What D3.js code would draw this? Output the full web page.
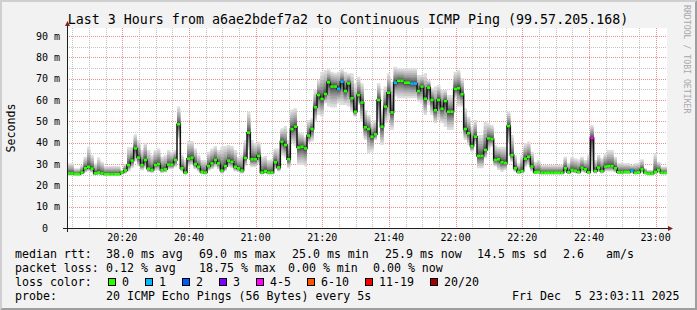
<!DOCTYPE html>
<html>
<head>
<meta charset="utf-8">
<script src="https://cdn.jsdelivr.net/npm/d3@7"></script>
<style>
body{margin:0;background:#f2f2f2}
svg{display:block}
text{font-family:"DejaVu Sans Mono",monospace;white-space:pre;fill:#000}
</style>
</head>
<body>
<script>
// data, one value per minute (ms)
const startTime = new Date(2025,11,5,20,3,25), endTime = new Date(2025,11,5,23,3,25);
const stepSec = 60;
const median = [
25.6,25.6,25.3,25.3,26.0,28.0,28.7,27.8,25.6,26.0,
25.6,25.2,25.2,25.2,25.2,25.2,26.0,27.0,29.5,31.6,
37.3,33.0,29.5,31.9,27.8,27.2,29.5,30.0,27.2,27.5,
29.7,29.7,31.9,48.6,28.0,26.0,32.5,33.0,30.0,28.7,
26.3,26.0,29.0,30.3,31.9,30.3,26.9,29.0,31.6,31.0,
28.7,28.0,26.9,32.8,44.7,32.2,32.2,33.8,26.0,26.7,
26.0,26.0,30.8,28.4,40.5,38.9,32.2,46.3,47.5,37.7,
38.1,37.3,43.3,46.4,56.6,62.3,60.5,62.8,68.3,66.3,
66.3,65.2,68.6,64.2,67.8,60.8,54.5,62.3,58.8,47.2,
46.4,42.8,43.9,60.0,47.5,56.9,63.4,54.2,68.1,69.0,
69.0,68.1,68.1,67.7,67.7,64.2,66.3,60.6,65.8,60.0,
55.2,60.0,55.9,59.5,54.5,54.5,65.2,65.5,62.7,46.4,
44.4,38.4,42.8,33.8,33.8,36.6,42.0,41.7,31.9,32.2,
30.8,30.5,47.8,34.2,28.0,26.3,26.7,32.5,33.4,28.8,
26.1,26.3,25.9,25.9,25.9,25.9,25.9,25.9,25.9,28.0,
26.1,27.2,26.9,26.3,28.3,27.5,26.1,42.2,26.7,28.3,
26.7,28.8,29.0,29.0,28.0,26.1,26.1,26.3,26.3,26.9,
25.9,26.1,27.5,25.9,25.5,25.5,26.3,27.2,25.9,25.9];
const smokeHi = [
30.3,30.3,28.0,28.0,29.5,33.4,38.1,34.2,30.3,33.0,
31.1,29.1,29.1,29.1,29.1,29.1,27.2,30.0,37.8,38.1,
43.9,41.3,36.6,40.0,36.6,34.2,36.6,37.3,33.4,34.2,
36.6,35.8,36.6,56.9,34.2,31.9,40.8,40.8,37.3,34.2,
31.9,31.9,35.8,37.3,38.4,36.6,38.1,38.4,38.9,38.4,
36.6,33.4,34.2,41.3,54.5,41.3,39.7,40.5,33.4,33.8,
31.9,32.2,37.3,37.3,46.7,47.8,41.3,55.6,56.1,45.2,
44.4,42.8,50.6,51.4,64.7,69.4,73.3,74.1,74.4,73.3,
72.8,73.3,74.4,73.3,72.5,72.5,67.8,70.9,67.8,55.3,
53.0,49.1,50.6,67.8,55.3,66.3,72.5,68.6,75.6,74.8,
74.8,74.8,74.8,74.8,74.8,71.7,71.7,72.5,69.4,65.5,
66.3,67.0,64.7,64.7,62.3,62.3,73.3,74.1,70.2,56.1,
52.2,47.5,50.6,43.6,43.6,49.8,49.1,48.3,38.9,38.1,
38.1,38.1,54.5,43.6,34.2,30.3,34.2,39.7,40.5,35.8,
31.1,31.9,29.5,29.5,29.5,29.5,29.5,29.5,29.5,33.4,
30.6,33.4,32.7,32.2,33.4,31.9,34.2,48.3,31.9,34.2,
32.7,35.0,36.6,36.6,33.4,30.6,30.6,30.3,30.3,29.5,
30.3,30.6,32.2,28.0,27.2,27.2,35.0,31.1,28.8,28.8];
const smokeLo = [
24.6,24.6,24.5,24.5,25.0,26.0,26.5,26.0,24.8,25.0,
24.8,24.5,24.5,24.5,24.5,24.5,25.0,25.5,26.5,28.0,
31.0,29.0,27.0,28.0,26.0,25.8,27.0,27.0,25.8,26.0,
27.5,27.5,28.5,42.0,26.5,25.0,29.0,29.5,27.5,26.5,
25.2,25.0,26.8,27.5,28.5,27.5,25.5,26.8,28.5,28.0,
26.5,26.2,25.5,29.0,36.6,28.5,28.5,30.0,25.0,25.5,
25.0,25.0,27.5,26.5,34.0,33.0,28.0,39.7,38.4,29.5,
29.5,29.0,39.7,40.5,49.8,53.0,52.2,58.4,56.9,56.5,
56.5,58.4,57.7,57.7,56.9,54.5,52.2,57.7,49.8,41.3,
35.0,35.8,41.3,49.8,38.9,49.1,50.6,45.9,61.6,60.8,
60.8,60.8,60.8,60.8,60.8,59.2,58.4,53.0,57.7,53.0,
49.1,50.6,49.1,47.5,45.9,45.9,60.8,56.9,56.9,41.3,
38.9,35.8,39.7,28.0,28.0,32.7,36.6,38.1,28.8,27.2,
26.4,27.2,39.7,31.1,26.4,25.3,25.5,28.5,29.5,26.5,
25.2,25.3,25.0,25.0,25.0,25.0,25.0,25.0,25.0,26.0,
25.2,25.8,25.6,25.3,26.2,25.8,25.2,27.0,25.5,26.2,
25.5,26.5,26.5,26.5,26.0,25.2,25.2,25.3,25.3,25.6,
25.0,25.2,26.0,25.0,24.6,24.6,25.3,26.0,25.0,25.0];
// lost pings out of 20, per minute
const lost = [
0,0,0,0,0,0,0,0,0,0, 0,0,0,0,0,0,0,0,0,0, 0,0,0,0,0,0,0,0,0,0,
0,0,0,0,0,0,0,0,0,0, 0,0,0,0,0,0,0,0,0,0, 0,0,0,0,0,0,0,0,0,0,
0,0,0,0,0,0,0,0,0,0, 0,0,0,0,0,0,0,0,0,0, 0,1,1,0,0,0,0,0,0,0,
0,0,0,0,0,0,0,0,1,0, 0,0,0,1,1,0,0,0,0,0, 0,0,0,0,0,0,0,0,0,0,
0,0,0,0,0,0,0,0,0,0, 0,0,0,0,0,0,0,0,0,0, 0,0,0,0,0,0,0,0,0,0,
0,0,0,0,0,0,0,4,0,0, 0,0,0,0,0,0,0,0,0,1, 0,0,0,0,0,0,0,0,0,0];
const yTicks = [0,10,20,30,40,50,60,70,80,90];
const lossLabels = ['0','1','2','3','4-5','6-10','11-19','20/20'];
const lossColors = ['#26ff00','#00b8ff','#0059ff','#7e00ff','#ff00ff','#ff5500','#ff0000','#a10000'];
const lossMax = [0,1,2,3,5,10,19,20];
const rttItems = ['38.0 ms avg','69.0 ms max','25.0 ms min','25.9 ms now','14.5 ms sd','2.6','am/s'];
const lossItems = ['0.12 % avg','18.75 % max','0.00 % min','0.00 % now'];

const W = 697, H = 310;
const pLeft = 67, pRight = 667, pTop = 28, pBottom = 228;

const svg = d3.select('body').append('svg').attr('width',W).attr('height',H);
// background + bevel
svg.append('rect').attr('width',W).attr('height',H).attr('fill','#f2f2f2');
svg.append('path').attr('d','M0,0H697L695,2H2V308L0,310Z').attr('fill','#cfcfcf');
svg.append('path').attr('d','M697,0V310H0L2,308H695V2Z').attr('fill','#9e9e9e');
svg.append('rect').attr('x',pLeft).attr('y',pTop).attr('width',pRight-pLeft).attr('height',pBottom-pTop).attr('fill','#fff');

// scales
const x = d3.scaleTime().domain([startTime,endTime]).range([pLeft,pRight]);
const y = d3.scaleLinear().domain([0,93.75]).range([pBottom,pTop]);

// grid
let grid = svg.append('g').attr('shape-rendering','crispEdges').attr('stroke-dasharray','1,1');
let minorT = d3.timeMinute.every(5).range(startTime,endTime).filter(d=>d.getMinutes()%20!=0);
let majorT = d3.timeMinute.every(20).range(startTime,endTime);
grid.selectAll('.vmin').data(minorT).join('line').attr('x1',d=>Math.round(x(d))+0.5).attr('x2',d=>Math.round(x(d))+0.5)
  .attr('y1',pTop).attr('y2',pBottom).attr('stroke','#c4c4c4');
let hmin = d3.range(5,93,10);
grid.selectAll('.hmin').data(hmin).join('line').attr('y1',d=>Math.round(y(d))+0.5).attr('y2',d=>Math.round(y(d))+0.5)
  .attr('x1',pLeft).attr('x2',pRight).attr('stroke','#c4c4c4');
grid.selectAll('.vmaj').data(majorT).join('line').attr('x1',d=>Math.round(x(d))+0.5).attr('x2',d=>Math.round(x(d))+0.5)
  .attr('y1',pTop).attr('y2',pBottom).attr('stroke','#eb9090');
grid.selectAll('.hmaj').data(yTicks.slice(1)).join('line').attr('y1',d=>Math.round(y(d))+0.5).attr('y2',d=>Math.round(y(d))+0.5)
  .attr('x1',pLeft).attr('x2',pRight).attr('stroke','#eb9090');

// smoke: nested bands from the outer range in towards the median, darker inside
let pts = median.map((m,i)=>({t:new Date(+startTime+i*stepSec*1000),m:m,hi:smokeHi[i],lo:smokeLo[i],loss:lost[i]}));
let ptsEnd = pts.concat([Object.assign({},pts[pts.length-1],{t:endTime})]);
const K = 10;
let smoke = svg.append('g');
for(let k=0;k<K;k++){
  let f = Math.pow(1-k/K,1.6);
  let g = Math.round(221-171*k/(K-1));
  let area = d3.area().curve(d3.curveStepAfter).x(d=>x(d.t))
    .y0(d=>y(d.m-(d.m-d.lo)*f)).y1(d=>y(d.m+(d.hi-d.m)*f));
  smoke.append('path').datum(ptsEnd).attr('d',area).attr('fill',d3.rgb(g,g,g));
}
// median line
let line = d3.line().curve(d3.curveStepAfter).x(d=>x(d.t)).y(d=>y(d.m));
svg.append('path').datum(ptsEnd).attr('d',line).attr('fill','none').attr('stroke','#111').attr('stroke-width',1.5);
let lossColor = n=>lossColors[lossMax.findIndex(v=>n<=v)];
svg.append('g').selectAll('line').data(pts).join('line')
  .attr('x1',d=>x(d.t)).attr('x2',d=>x(new Date(+d.t+stepSec*1000)))
  .attr('y1',d=>y(d.m)).attr('y2',d=>y(d.m))
  .attr('stroke',d=>lossColor(d.loss)).attr('stroke-width',2.6);

// axes
let ax = svg.append('g').attr('shape-rendering','crispEdges');
ax.append('line').attr('x1',pLeft-4).attr('x2',pRight+2).attr('y1',pBottom+0.5).attr('y2',pBottom+0.5).attr('stroke','#1f1f1f');
ax.append('line').attr('x1',pLeft+0.5).attr('x2',pLeft+0.5).attr('y1',pBottom+4).attr('y2',pTop-3).attr('stroke','#1f1f1f');
svg.append('path').attr('d',`M${pRight+1},${pBottom-2}L${pRight+6},${pBottom+0.5}L${pRight+1},${pBottom+3}Z`).attr('fill','#801f1f');
svg.append('path').attr('d',`M${pLeft-2},${pTop-2}L${pLeft+0.5},${pTop-7}L${pLeft+3},${pTop-2}Z`).attr('fill','#801f1f');

// tick labels
svg.selectAll('.xl').data(majorT).join('text').attr('x',d=>x(d)).attr('y',241)
  .attr('text-anchor','middle').style('font-size','10px').text(d3.timeFormat('%H:%M'));
svg.selectAll('.yl').data(yTicks).join('text').attr('x',60).attr('y',d=>y(d)+3.5)
  .attr('text-anchor','end').style('font-size','10px').text(d=>d==0?'0  ':d+' m');

// titles
svg.append('text').attr('x',348).attr('y',24).attr('text-anchor','middle').style('font-size','13.3px')
  .text('Last 3 Hours from a6ae2bdef7a2 to Continuous ICMP Ping (99.57.205.168)');
svg.append('text').attr('transform','translate(15,128) rotate(-90)').attr('text-anchor','middle')
  .style('font-size','11.6px').text('Seconds');
svg.append('text').attr('transform','translate(684,5) rotate(90)').style('font-size','8.2px').style('fill','#a8a8a8')
  .text('RRDTOOL / TOBI OETIKER');

// legend
let lg = svg.append('g').style('font-size','11.6px');
lg.append('text').attr('x',15).attr('y',258).text('median rtt:');
lg.selectAll('.r').data(rttItems).join('text').attr('x',(d,i)=>[106,199,292,385,477,563,606][i]).attr('y',258).text(d=>d);
lg.append('text').attr('x',15).attr('y',272).text('packet loss:');
lg.selectAll('.p').data(lossItems).join('text').attr('x',(d,i)=>[106,199,288,373][i]).attr('y',272).text(d=>d);
lg.append('text').attr('x',15).attr('y',286).text('loss color:');
let bx = [108,145,182,219,256,307,365,430];
lg.selectAll('rect').data(lossLabels).join('rect').attr('x',(d,i)=>bx[i]+0.5).attr('y',278.5).attr('width',7).attr('height',7)
  .attr('fill',(d,i)=>lossColors[i]).attr('stroke','#000');
lg.selectAll('.lc').data(lossLabels).join('text').attr('x',(d,i)=>bx[i]+14).attr('y',286).text(d=>d);
lg.append('text').attr('x',15).attr('y',300).text('probe:');
lg.append('text').attr('x',106).attr('y',300).text('20 ICMP Echo Pings (56 Bytes) every 5s');
lg.append('text').attr('x',512).attr('y',300).text('Fri Dec  5 23:03:11 2025');
</script>
</body>
</html>
